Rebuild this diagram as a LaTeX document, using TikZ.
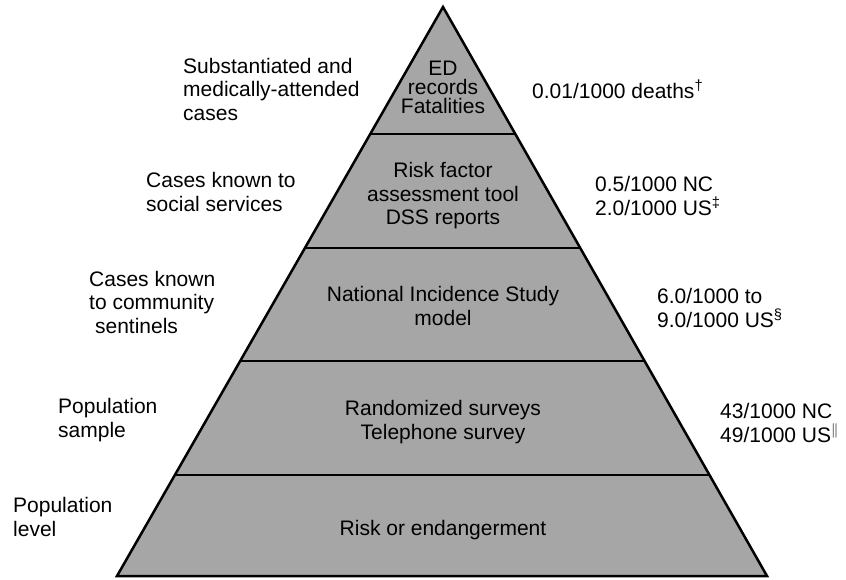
\documentclass[tikz,border=0pt]{standalone}
\usepackage{fontspec}
\setmainfont{Liberation Sans}
\usetikzlibrary{calc}

\begin{document}
\begin{tikzpicture}[x=1pt, y=-1pt,
    every node/.style={font=\fontsize{21}{23.5}\selectfont, inner sep=0pt},
    tier/.style={align=center},
    levellabel/.style={align=left, anchor=west},
    ratelabel/.style={align=left, anchor=west}]
    \useasboundingbox (0,0) rectangle (846,579);

    % Pyramid
    \coordinate (top) at (443,7);
    \coordinate (bl) at (117,576);
    \coordinate (br) at (767,576);
    \fill[black!35] (top) -- (bl) -- (br) -- cycle;
    \draw[line width=2pt] ($(top)!0.2232!(bl)$) -- ($(top)!0.2232!(br)$);
    \draw[line width=2pt] ($(top)!0.4236!(bl)$) -- ($(top)!0.4236!(br)$);
    \draw[line width=2pt] ($(top)!0.6221!(bl)$) -- ($(top)!0.6221!(br)$);
    \draw[line width=2pt] ($(top)!0.8225!(bl)$) -- ($(top)!0.8225!(br)$);
    \draw[line width=2.5pt, line join=miter] (top) -- (bl) -- (br) -- cycle;

    % Tiers
    \node[tier, font=\fontsize{21}{19}\selectfont] (ed) at (443,87) {ED\\records\\Fatalities};
    \node[tier] (dss) at (443,196) {Risk factor\\assessment tool\\DSS reports};
    \node[tier] (nis) at (443,306) {National Incidence Study\\model};
    \node[tier] (survey) at (443,422) {Randomized surveys\\Telephone survey};
    \node[tier, anchor=base] (risk) at (443,535) {Risk or endangerment};

    % Levels
    \node[levellabel] (medical) at (183,89) {Substantiated and\\medically-attended\\cases};
    \node[levellabel] (social) at (146,192) {Cases known to\\social services};
    \node[levellabel] (sentinel) at (89,302) {Cases known\\to community\\\hspace{0.28em}sentinels};
    \node[levellabel] (sample) at (58,420) {Population\\sample};
    \node[levellabel] (poplevel) at (13,517) {Population\\level};

    % Rates
    \node[ratelabel, anchor=base west] (deaths) at (532,98) {0.01/1000 deaths\textsuperscript{\textdagger}};
    \node[ratelabel] (ncrate) at (595,196) {0.5/1000 NC\\2.0/1000 US\textsuperscript{\textdaggerdbl}};
    \node[ratelabel] (nisrate) at (657,308) {6.0/1000 to\\9.0/1000 US\textsuperscript{\S}};
    \node[ratelabel] (surveyrate) at (720,423) {43/1000 NC\\49/1000 US$^{\|}$};
\end{tikzpicture}
\end{document}
